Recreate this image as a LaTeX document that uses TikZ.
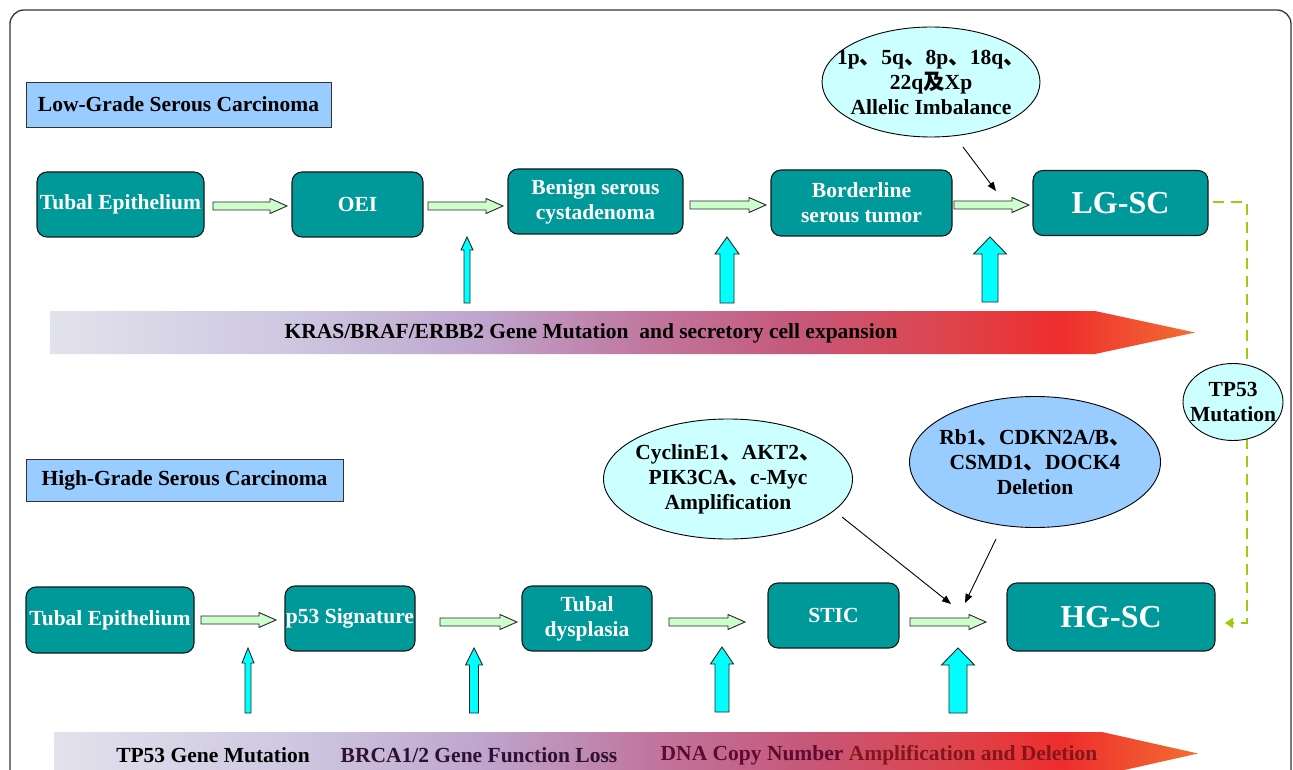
\documentclass[tikz,border=0pt]{standalone}
\usepackage{fontspec}
\setmainfont{Liberation Serif}
\newfontfamily\cjk{Noto Sans CJK SC}
\usetikzlibrary{shapes.geometric,arrows.meta,calc}
\newcommand\dunh{{\cjk 、}}
\newcommand\jih{{\cjk 及}}
\definecolor{teal1}{HTML}{009999}
\definecolor{hdrblue}{HTML}{99CCFF}
\definecolor{lcyan}{HTML}{CCFFFF}
\definecolor{lgreen}{HTML}{CCFFCC}
\definecolor{cyanA}{HTML}{00FFFF}
\definecolor{ygreen}{HTML}{9ACD0A}
\definecolor{s0}{RGB}{226,226,236}
\definecolor{s1}{RGB}{205,198,224}
\definecolor{s2}{RGB}{190,165,205}
\definecolor{s3}{RGB}{192,120,160}
\definecolor{s4}{RGB}{198,88,122}
\definecolor{s5}{RGB}{222,68,76}
\definecolor{s6}{RGB}{238,45,45}
\definecolor{s7}{RGB}{242,110,50}
\definecolor{txtpurple}{RGB}{46,16,48}
\definecolor{txtmaroon}{RGB}{96,10,48}
\definecolor{txtred}{RGB}{130,22,28}
\pgfdeclarehorizontalshading{progress}{100bp}{color(0bp)=(s0); color(25bp)=(s0); color(35.9bp)=(s1); color(43.8bp)=(s2); color(50.8bp)=(s3); color(57.7bp)=(s4); color(64.3bp)=(s5); color(69.1bp)=(s6); color(75bp)=(s7); color(100bp)=(s7)}
\newcommand\fmain{\bfseries\fontsize{21.5}{25}\selectfont}
\newcommand\fbig{\bfseries\fontsize{32}{36}\selectfont}
% right block arrow: #1 start coord, #2 end coord
\newcommand\rarr[2]{\draw[garrow] ([shift={(0,-4)}]#1) -- ([shift={(-17,-4)}]#2) -- ([shift={(-17,-7.5)}]#2) -- (#2) -- ([shift={(-17,7.5)}]#2) -- ([shift={(-17,4)}]#2) -- ([shift={(0,4)}]#1) -- cycle;}
% up block arrow: #1 bottom coord, #2 tip coord, #3 half shaft, #4 half head, #5 head length
\newcommand\uarr[5]{\draw[carrow] ([shift={(-#3,0)}]#1) -- ([shift={(-#3,#5)}]#2) -- ([shift={(-#4,#5)}]#2) -- (#2) -- ([shift={(#4,#5)}]#2) -- ([shift={(#3,#5)}]#2) -- ([shift={(#3,0)}]#1) -- cycle;}
\begin{document}
\begin{tikzpicture}[x=1pt,y=-1pt,
  frame/.style={draw=black!80, line width=1.3pt, rounded corners=14pt},
  header/.style={draw=black!80, line width=0.8pt, fill=hdrblue, inner sep=0pt, font=\fmain},
  stage/.style={draw=black!90, line width=1.1pt, fill=teal1, rounded corners=10pt, inner sep=0pt, text=white, font=\fmain, align=center},
  bigstage/.style={stage, font=\fbig},
  infoshape/.style={ellipse, draw=black, line width=0.9pt, fill=lcyan, inner sep=0pt},
  infotext/.style={font=\fmain, align=center, inner sep=0pt},
  garrow/.style={draw=black!85, line width=0.9pt, fill=lgreen},
  carrow/.style={draw=black!85, line width=0.9pt, fill=cyanA},
  thinarr/.style={draw=black, line width=0.9pt, -{Triangle[length=9pt,width=7pt]}},
  dashline/.style={draw=ygreen, line width=2.9pt, dash pattern=on 11pt off 7pt, -{Triangle[length=8pt,width=10pt]}},
  bartext/.style={font=\fmain, inner sep=0pt}
]
\useasboundingbox (0,0) rectangle (1293,770);
\clip (0,0) rectangle (1293,770);
\fill[white] (0,0) rectangle (1293,770);

% outer frame
\draw[frame] (10,800) -- (10,10) -- (1291,10) -- (1291,800);

% headers
\node[header, minimum width=305, minimum height=45] (lghead) at (178.5,104.5) {Low-Grade Serous Carcinoma};
\node[header, minimum width=317, minimum height=42] (hghead) at (184.5,480) {High-Grade Serous Carcinoma};

% gradient bars
\shade[shading=progress] (50,311) -- (1095,311) -- (1195,332.5) -- (1095,354) -- (50,354) -- cycle;
\shade[shading=progress] (54,732) -- (1102,732) -- (1198,753.5) -- (1102,775) -- (54,775) -- cycle;
\node[bartext] (kras) at (591,333) {KRAS/BRAF/ERBB2 Gene Mutation\ \ and secretory cell expansion};
\node[bartext] (tp53m) at (213,755) {TP53 Gene Mutation};
\node[bartext, text=txtpurple] (brca) at (479,755) {BRCA1/2 Gene Function Loss};
\node[bartext] (dna) at (879,755) {\textcolor{txtmaroon}{DNA Copy Number} \textcolor{txtred}{Amplification and Deletion}};

% row 1 stages
\node[stage, minimum width=167, minimum height=65] (t1) at (120.5,204.5) {Tubal Epithelium};
\node[stage, minimum width=131, minimum height=65] (oei) at (357.5,204.5) {OEI};
\node[stage, minimum width=175, minimum height=65] (benign) at (595.5,201.5) {Benign serous\\cystadenoma};
\node[stage, minimum width=181, minimum height=66] (border) at (861.5,203) {Borderline\\serous tumor};
\node[bigstage, minimum width=175, minimum height=65] (lgsc) at (1120.5,203) {LG-SC};

% row 2 stages
\node[stage, minimum width=168, minimum height=66] (t2) at (110,620) {Tubal Epithelium};
\node[stage, minimum width=130, minimum height=65] (p53) at (350,618.5) {p53 Signature};
\node[stage, minimum width=130, minimum height=65] (dys) at (587,618.5) {Tubal\\dysplasia};
\node[stage, minimum width=131, minimum height=65] (stic) at (833.5,615.5) {STIC};
\node[bigstage, minimum width=208, minimum height=68] (hgsc) at (1111,617) {HG-SC};

% green arrow end points
\coordinate (g1s) at (213,206);  \coordinate (g1e) at (287,206);
\coordinate (g2s) at (428,206);  \coordinate (g2e) at (503,206);
\coordinate (g3s) at (690,205);  \coordinate (g3e) at (766,205);
\coordinate (g4s) at (954,205);  \coordinate (g4e) at (1029,205);
\coordinate (g5s) at (201,620);  \coordinate (g5e) at (276,620);
\coordinate (g6s) at (440,622);  \coordinate (g6e) at (517,622);
\coordinate (g7s) at (669,622);  \coordinate (g7e) at (745,622);
\coordinate (g8s) at (910,622);  \coordinate (g8e) at (986,622);
\rarr{g1s}{g1e}\rarr{g2s}{g2e}\rarr{g3s}{g3e}\rarr{g4s}{g4e}
\rarr{g5s}{g5e}\rarr{g6s}{g6e}\rarr{g7s}{g7e}\rarr{g8s}{g8e}

% cyan up arrows
\coordinate (u1b) at (467,303); \coordinate (u1t) at (467,237);
\coordinate (u2b) at (727,303); \coordinate (u2t) at (727,237);
\coordinate (u3b) at (990,302); \coordinate (u3t) at (990,237);
\coordinate (u4b) at (248,713); \coordinate (u4t) at (248,648);
\coordinate (u5b) at (474,713); \coordinate (u5t) at (474,648);
\coordinate (u6b) at (722,712); \coordinate (u6t) at (722,647);
\coordinate (u7b) at (958,713); \coordinate (u7t) at (958,648);
\uarr{u1b}{u1t}{3}{6}{13}
\uarr{u2b}{u2t}{7}{12}{17}
\uarr{u3b}{u3t}{8}{16.5}{17}
\uarr{u4b}{u4t}{3}{6}{15}
\uarr{u5b}{u5t}{4.5}{8.5}{17}
\uarr{u6b}{u6t}{7}{11.5}{17}
\uarr{u7b}{u7t}{9}{16.5}{17}

% dashed TP53 connector
\coordinate (d0) at (1213,202);
\coordinate (d1) at (1247,202);
\coordinate (d2) at (1247,623);
\coordinate (d3) at (1225,623);
\draw[dashline] (d0) -- (d1) -- (d2) -- (d3);

% info ellipses
\node[infoshape, minimum width=218, minimum height=110] (allelic) at (931,82) {};
\node[infotext] (allelictxt) at (allelic) {1p\dunh5q\dunh8p\dunh18q\dunh\\22q\jih Xp\\Allelic Imbalance};
\node[infoshape, minimum width=249, minimum height=120] (cyclin) at (728,479) {};
\node[infotext] (cyclintxt) at (cyclin) {CyclinE1\dunh AKT2\dunh\\PIK3CA\dunh c-Myc\\Amplification};
\node[infoshape, fill=hdrblue, minimum width=251, minimum height=131] (rb1) at (1035,462) {};
\node[infotext] (rb1txt) at (rb1) {Rb1\dunh CDKN2A/B\dunh\\CSMD1\dunh DOCK4\\Deletion};
\node[infoshape, minimum width=100, minimum height=77] (tp53) at (1233,402) {};
\node[infotext] (tp53txt) at (tp53) {TP53\\Mutation};

% thin black arrows
\coordinate (a1s) at (963,147); \coordinate (a1e) at (996,191);
\coordinate (a2s) at (842,517); \coordinate (a2e) at (951,604);
\coordinate (a3s) at (996,539); \coordinate (a3e) at (965,603);
\draw[thinarr] (a1s) -- (a1e);
\draw[thinarr] (a2s) -- (a2e);
\draw[thinarr] (a3s) -- (a3e);
\end{tikzpicture}
\end{document}
